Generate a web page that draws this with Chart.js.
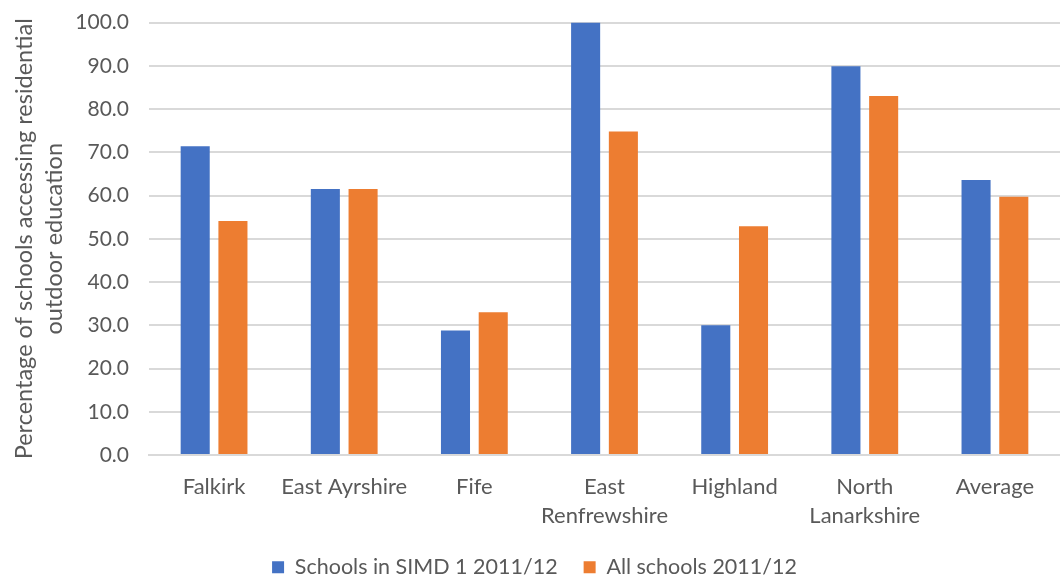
<!DOCTYPE html>
<html>
<head>
<meta charset="utf-8">
<script src="https://cdn.jsdelivr.net/npm/chart.js@4"></script>
<style>
  html, body { margin: 0; padding: 0; background: #fff; }
  #wrap { width: 1060px; height: 579px; }
</style>
</head>
<body>
<div id="wrap"><canvas id="chart"></canvas></div>
<script>
const categories = ['Falkirk', 'East Ayrshire', 'Fife', ['East', 'Renfrewshire'], 'Highland', ['North', 'Lanarkshire'], 'Average'];
const simd1 = [71.4, 61.5, 28.8, 100.0, 30.0, 89.9, 63.6];
const allSchools = [54.1, 61.5, 33.0, 74.8, 52.9, 83.0, 59.7];
const seriesNames = ['Schools in SIMD 1 2011/12', 'All schools 2011/12'];
const yTitle = ['Percentage of schools accessing residential', 'outdoor education'];

const textColor = '#595959';
const gridColor = '#d9d9d9';
Chart.defaults.font.family = 'Lato, "Open Sans", sans-serif';
Chart.defaults.color = textColor;

new Chart(document.getElementById('chart'), {
  type: 'bar',
  data: {
    labels: categories,
    datasets: [
      { label: seriesNames[0], data: simd1, backgroundColor: '#4472C4' },
      { label: seriesNames[1], data: allSchools, backgroundColor: '#ED7D31' }
    ]
  },
  options: {
    responsive: true,
    maintainAspectRatio: false,
    animation: false,
    layout: { padding: { left: 9, right: 0, top: 0, bottom: -9 } },
    datasets: { bar: { categoryPercentage: 0.58, barPercentage: 0.77 } },
    plugins: {
      tooltip: { enabled: false },
      legend: {
        position: 'bottom',
        labels: { boxWidth: 12, boxHeight: 12, padding: 26, font: { size: 21.5 }, color: textColor }
      }
    },
    scales: {
      x: {
        grid: { display: false, drawTicks: false },
        border: { display: true, color: gridColor, width: 2 },
        ticks: { font: { size: 22, lineHeight: 1.33 }, padding: 17, maxRotation: 0, autoSkip: false },
        // tick padding is counted twice by the layout; give back the lower half
        afterFit: s => { s.height -= 17; }
      },
      y: {
        min: 0,
        max: 100,
        grid: { color: gridColor, lineWidth: 2, drawTicks: true, tickLength: 10, tickColor: 'rgba(0,0,0,0)' },
        border: { display: false },
        ticks: { stepSize: 10, font: { size: 21 }, padding: 10, callback: v => v.toFixed(1) },
        title: { display: true, text: yTitle, font: { size: 23.5, lineHeight: 1.3 }, padding: { top: 0, bottom: 0 } },
        afterFit: s => { s.width = 140; }
      }
    }
  }
});
</script>
</body>
</html>
